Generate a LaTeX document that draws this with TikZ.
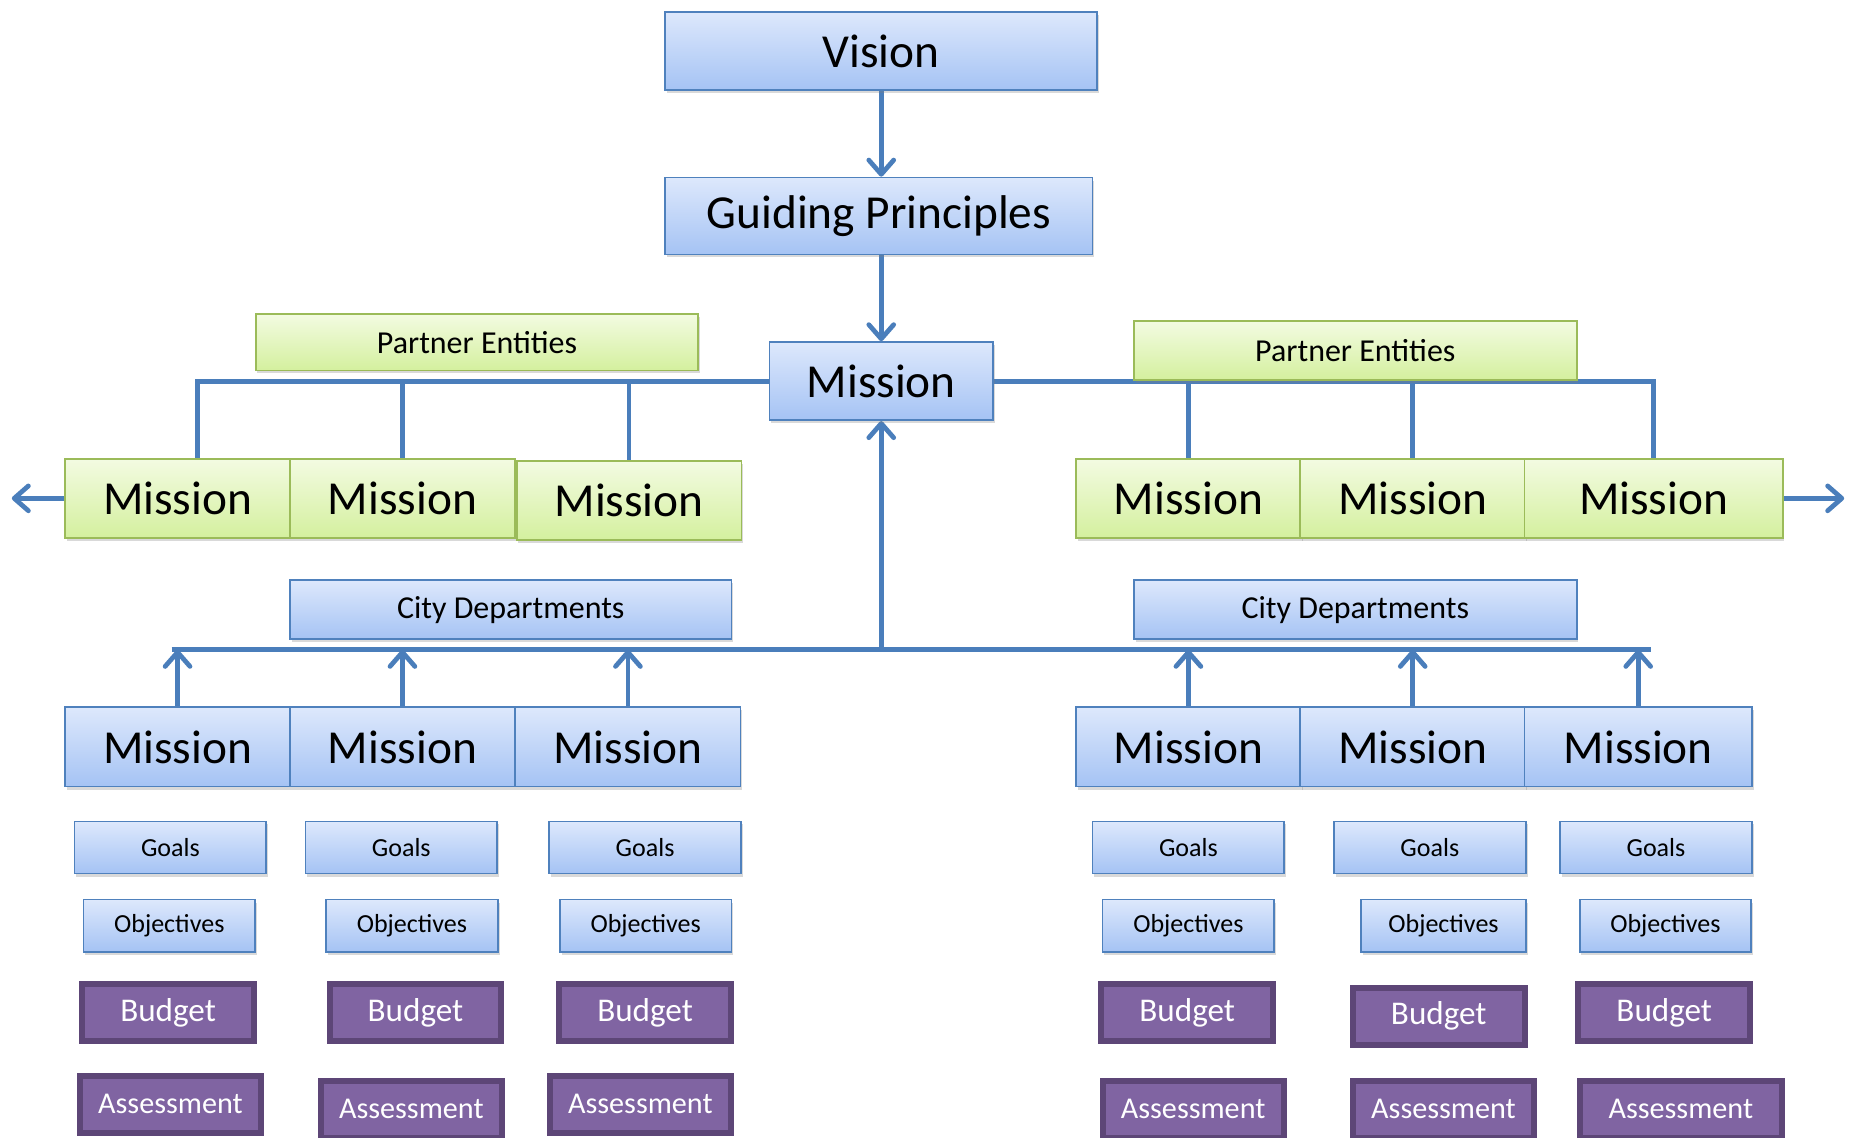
\documentclass[tikz,border=0pt]{standalone}
\usepackage{fontspec}
\setmainfont{Carlito}
\usetikzlibrary{arrows.meta,shadows,backgrounds}

\definecolor{blueline}{HTML}{4F81BD}
\definecolor{bluetop}{HTML}{DDE8FC}
\definecolor{bluebot}{HTML}{A5C3F4}
\definecolor{greenline}{HTML}{9BBB59}
\definecolor{greentop}{HTML}{F3FBE2}
\definecolor{greenbot}{HTML}{D4F09E}
\definecolor{purplefill}{HTML}{8064A2}
\definecolor{purpleline}{HTML}{5D4677}
\definecolor{linkcolor}{HTML}{4A7EBB}

\tikzset{
  box/.style={rectangle, inner sep=0pt, line width=1.5pt,
    drop shadow={opacity=0.3, shadow xshift=1.5pt, shadow yshift=-2.5pt}},
  bluebox/.style={box, draw=blueline, top color=bluetop, bottom color=bluebot},
  greenbox/.style={box, draw=greenline, top color=greentop, bottom color=greenbot},
  purplebox/.style={box, draw=purpleline, fill=purplefill, line width=5pt, text=white},
  bigtext/.style={font=\fontsize{40}{44}\selectfont},
  headtext/.style={font=\fontsize{27}{30}\selectfont},
  smalltext/.style={font=\fontsize{22}{25}\selectfont},
  mission/.style={bigtext, minimum width=190pt, minimum height=67pt},
  goalbox/.style={bluebox, smalltext, minimum width=162pt, minimum height=44pt},
  objbox/.style={bluebox, smalltext, minimum width=145pt, minimum height=44pt},
  budgetbox/.style={purplebox, font=\fontsize{28}{31}\selectfont, minimum width=145pt, minimum height=48pt},
  assessbox/.style={purplebox, font=\fontsize{25.5}{28}\selectfont, minimum width=153pt, minimum height=48pt},
  link/.style={draw=linkcolor, line width=4pt},
  linkarrow/.style={link, -{Straight Barb[length=12pt, width=21pt, line cap=round, line join=round]}}
}

\begin{document}
\begin{tikzpicture}[x=1pt, y=-1pt]

    \useasboundingbox (0,0) rectangle (1568,961);
    \clip (0,0) rectangle (1568,961);

    \node [bluebox, bigtext, minimum width=365pt, minimum height=66pt] (vision) at (744.5,43) {Vision};
    \node [bluebox, bigtext, minimum width=361pt, minimum height=65pt] (guiding) at (742.5,182.5) {Guiding Principles};
    \node [bluebox, bigtext, minimum width=189pt, minimum height=66pt] (mission) at (744.5,322) {Mission};

    \node [greenbox, headtext, minimum width=374pt, minimum height=48pt] (lpartner) at (403,289) {Partner Entities};
    \node [greenbox, headtext, minimum width=374pt, minimum height=50pt] (rpartner) at (1145,296) {Partner Entities};

    \node [greenbox, mission] (lpm1) at (150,421) {Mission};
    \node [greenbox, mission] (lpm2) at (340,421) {Mission};
    \node [greenbox, mission] (lpm3) at (531.5,423) {Mission};
    \node [greenbox, mission] (rpm1) at (1004,421) {Mission};
    \node [greenbox, mission] (rpm2) at (1193.5,421) {Mission};
    \node [greenbox, mission, minimum width=218pt] (rpm3) at (1397,421) {Mission};

    \node [bluebox, headtext, minimum width=373pt, minimum height=50pt] (lcity) at (431.5,515) {City Departments};
    \node [bluebox, headtext, minimum width=374pt, minimum height=50pt] (rcity) at (1145,515) {City Departments};

    \node [bluebox, mission] (lcm1) at (150,631) {Mission};
    \node [bluebox, mission] (lcm2) at (340,631) {Mission};
    \node [bluebox, mission] (lcm3) at (530.5,631) {Mission};
    \node [bluebox, mission] (rcm1) at (1004,631) {Mission};
    \node [bluebox, mission] (rcm2) at (1193.5,631) {Mission};
    \node [bluebox, mission, minimum width=192pt] (rcm3) at (1384,631) {Mission};

    \node [goalbox] (goals1) at (144,716) {Goals};
    \node [goalbox] (goals2) at (339,716) {Goals};
    \node [goalbox] (goals3) at (545,716) {Goals};
    \node [goalbox] (goals4) at (1004,716) {Goals};
    \node [goalbox] (goals5) at (1208,716) {Goals};
    \node [goalbox] (goals6) at (1399,716) {Goals};

    \node [objbox] (obj1) at (143,782) {Objectives};
    \node [objbox] (obj2) at (348,782) {Objectives};
    \node [objbox] (obj3) at (545.5,782) {Objectives};
    \node [objbox] (obj4) at (1004,782) {Objectives};
    \node [objbox, minimum width=139pt] (obj5) at (1219.5,782) {Objectives};
    \node [objbox] (obj6) at (1407,782) {Objectives};

    \node [budgetbox] (budget1) at (142,855.5) {Budget};
    \node [budgetbox] (budget2) at (351,855.5) {Budget};
    \node [budgetbox] (budget3) at (545,855.5) {Budget};
    \node [budgetbox] (budget4) at (1003,855.5) {Budget};
    \node [budgetbox] (budget5) at (1215.5,858.5) {Budget};
    \node [budgetbox] (budget6) at (1406,855.5) {Budget};

    \node [assessbox] (assess1) at (144,933) {Assessment};
    \node [assessbox] (assess2) at (347.5,937) {Assessment};
    \node [assessbox] (assess3) at (541,933) {Assessment};
    \node [assessbox] (assess4) at (1008,937) {Assessment};
    \node [assessbox] (assess5) at (1219.5,937) {Assessment};
    \node [assessbox, minimum width=171pt] (assess6) at (1420,937) {Assessment};

    \coordinate (lcorner) at (167,322);
    \coordinate (lout) at (10,421);
    \coordinate (rout) at (1558,421);
    \coordinate (busleft) at (145,549);
    \coordinate (busright) at (1395,549);

    \begin{scope}[on background layer]
    \draw [linkarrow] (vision.south) -- (vision.south |- guiding.north);
    \draw [linkarrow] (mission.north |- guiding.south) -- (mission.north);

    \draw [link] (mission.west) -- (lcorner) -- (lcorner |- lpm1.north);
    \draw [link] (lpm2.north |- mission.west) -- (lpm2.north);
    \draw [link] (lpm3.north |- mission.west) -- (lpm3.north);
    \draw [link] (mission.east) -- (rpm3.north |- mission.east) -- (rpm3.north);
    \draw [link] (rpm1.north |- mission.east) -- (rpm1.north);
    \draw [link] (rpm2.north |- mission.east) -- (rpm2.north);
    \draw [linkarrow] (lpm1.west) -- (lout);
    \draw [linkarrow] (rpm3.east) -- (rout);

    \draw [link] (busleft) -- (busright);
    \draw [linkarrow] (mission.south |- busleft) -- (mission.south);
    \draw [linkarrow] (lcm1.north) -- (lcm1.north |- busleft);
    \draw [linkarrow] (lcm2.north) -- (lcm2.north |- busleft);
    \draw [linkarrow] (lcm3.north) -- (lcm3.north |- busleft);
    \draw [linkarrow] (rcm1.north) -- (rcm1.north |- busleft);
    \draw [linkarrow] (rcm2.north) -- (rcm2.north |- busleft);
    \draw [linkarrow] (rcm3.north) -- (rcm3.north |- busleft);
    \end{scope}

\end{tikzpicture}
\end{document}
